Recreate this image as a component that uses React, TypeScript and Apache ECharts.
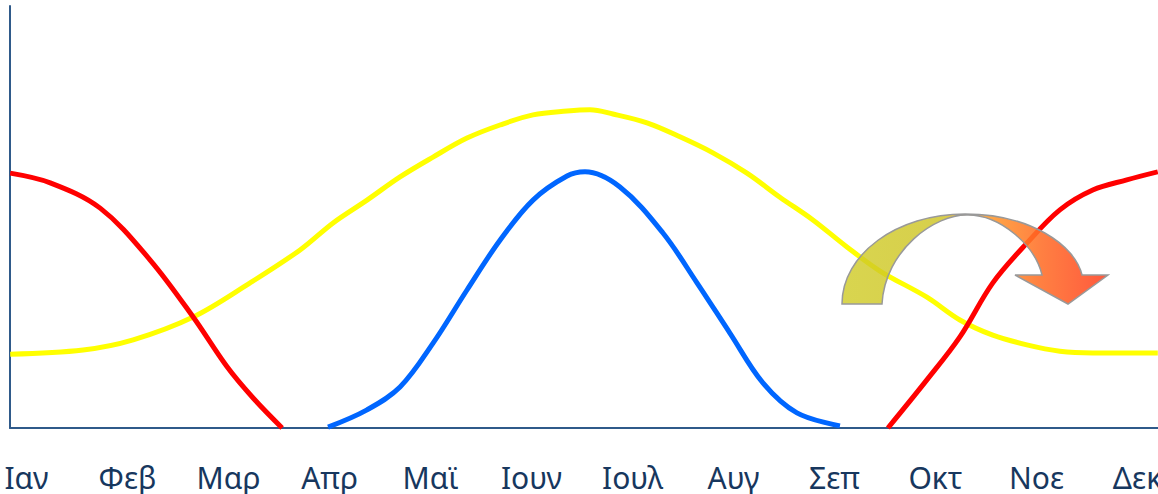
import React, { useEffect, useRef } from "react";
import * as echarts from "echarts";

// Month tick labels (Greek)
const months = ["Ιαν", "Φεβ", "Μαρ", "Απρ", "Μαϊ", "Ιουν", "Ιουλ", "Αυγ", "Σεπ", "Οκτ", "Νοε", "Δεκ"];

// Curves: [month position, level 0–100]
const redEarly: [number, number][] = [
  [-0.168, 60.4], [0.228, 58.1], [0.723, 52.1], [1.218, 39.8], [1.644, 26.3],
  [1.98, 14.5], [2.238, 7.1], [2.525, 0],
];
const redLate: [number, number][] = [
  [8.525, 0], [8.911, 11.4], [9.238, 21.6], [9.564, 34.4], [9.901, 43.8],
  [10.228, 51.7], [10.554, 56.4], [10.891, 58.8], [11.198, 60.7],
];
const blue: [number, number][] = [
  [2.98, 0.2], [3.366, 4.3], [3.693, 9.7], [4.02, 20.1], [4.356, 32.7], [4.683, 44.5],
  [5.01, 54.0], [5.347, 59.7], [5.525, 60.7], [5.871, 57.1], [6.297, 46.2], [6.634, 34.4],
  [6.96, 22.5], [7.287, 10.7], [7.624, 3.6], [8.05, 0.5],
];
const yellow: [number, number][] = [
  [-0.168, 17.5], [0.554, 18.5], [1.05, 20.9], [1.644, 26.3], [2.208, 34.4], [2.703, 42.2],
  [3.03, 48.6], [3.366, 54.0], [3.693, 59.5], [4.02, 64.2], [4.356, 68.7], [4.683, 71.8],
  [5.01, 74.2], [5.347, 75.1], [5.574, 75.4], [5.802, 74.4], [6.139, 72.3], [6.465, 69.0],
  [6.792, 65.2], [7.129, 60.4], [7.455, 54.7], [7.782, 49.3], [8.119, 42.9], [8.446, 37.2],
  [8.911, 31.0], [9.238, 25.6], [9.564, 22.0], [9.901, 19.7], [10.228, 18.2], [10.554, 17.8],
  [11.198, 17.8],
];

const ARROW_D =
  "M842 304 C842 254 897 214 965 214 C1030 214 1075 245 1082 275 L1108 275 L1068 304 L1015 275 L1042 275 C1035 245 1000 215 968 215 C935 214 885 250 882 304 Z";

let registered = false;

export default function App() {
  const ref = useRef<HTMLDivElement>(null);
  useEffect(() => {
    document.body.style.margin = "0";
    if (!registered) {
      echarts.graphic.registerShape("curvedArrow", echarts.graphic.extendPath(ARROW_D, {}) as any);
      registered = true;
    }
    const chart = echarts.init(ref.current!, null, { renderer: "svg" });
    const axisColor = "#2f5a8a";
    const lineSeries = (name: string, data: [number, number][], color: string) => ({
      name,
      type: "line",
      xAxisIndex: 0,
      yAxisIndex: 0,
      data,
      smooth: 0.35,
      showSymbol: false,
      symbol: "none",
      lineStyle: { color, width: 5 },
      z: 3,
    });
    chart.setOption({
      animation: false,
      backgroundColor: "#ffffff",
      grid: [
        { left: 10, right: 0, top: 6, bottom: 66, outerBoundsMode: "none", containLabel: false },
        { left: -24, right: -30, top: 6, bottom: 66, outerBoundsMode: "none", containLabel: false },
      ],
      xAxis: [
        {
          type: "value",
          gridIndex: 0,
          min: -0.17,
          max: 11.2,
          axisLine: { show: true, onZero: false, lineStyle: { color: axisColor, width: 2 } },
          axisTick: { show: false },
          axisLabel: { show: false },
          splitLine: { show: false },
        },
        {
          type: "category",
          gridIndex: 1,
          data: months,
          boundaryGap: true,
          axisLine: { show: false },
          axisTick: { show: false },
          axisLabel: {
            color: "#17375e",
            fontSize: 30,
            lineHeight: 30,
            fontFamily: "Noto Sans",
            margin: 34,
            interval: 0,
            hideOverlap: false,
          },
          splitLine: { show: false },
        },
      ],
      yAxis: [
        {
          type: "value",
          gridIndex: 0,
          min: 0,
          max: 100,
          axisLine: { show: true, onZero: false, lineStyle: { color: axisColor, width: 2 } },
          axisTick: { show: false },
          axisLabel: { show: false },
          splitLine: { show: false },
        },
        {
          type: "value",
          gridIndex: 1,
          min: 0,
          max: 100,
          show: false,
        },
      ],
      series: [
        lineSeries("yellow", yellow, "#ffff00"),
        lineSeries("red-early", redEarly, "#ff0000"),
        lineSeries("red-late", redLate, "#ff0000"),
        lineSeries("blue", blue, "#0066ff"),
      ],
      graphic: [
        {
          type: "curvedArrow",
          x: 0,
          y: 0,
          z: 100,
          style: {
            fill: new echarts.graphic.LinearGradient(0, 0, 1, 0, [
              { offset: 0, color: "rgba(208,204,40,0.82)" },
              { offset: 0.38, color: "rgba(206,196,36,0.82)" },
              { offset: 0.47, color: "rgba(255,170,40,0.85)" },
              { offset: 0.75, color: "rgba(255,110,40,0.88)" },
              { offset: 1, color: "rgba(255,70,40,0.9)" },
            ]),
            stroke: "#999999",
            lineWidth: 1.5,
          },
        },
      ],
    });
    return () => chart.dispose();
  }, []);
  return (
    <div
      ref={ref}
      style={{ position: "absolute", left: 0, top: 0, width: 1158, height: 494 }}
    />
  );
}
